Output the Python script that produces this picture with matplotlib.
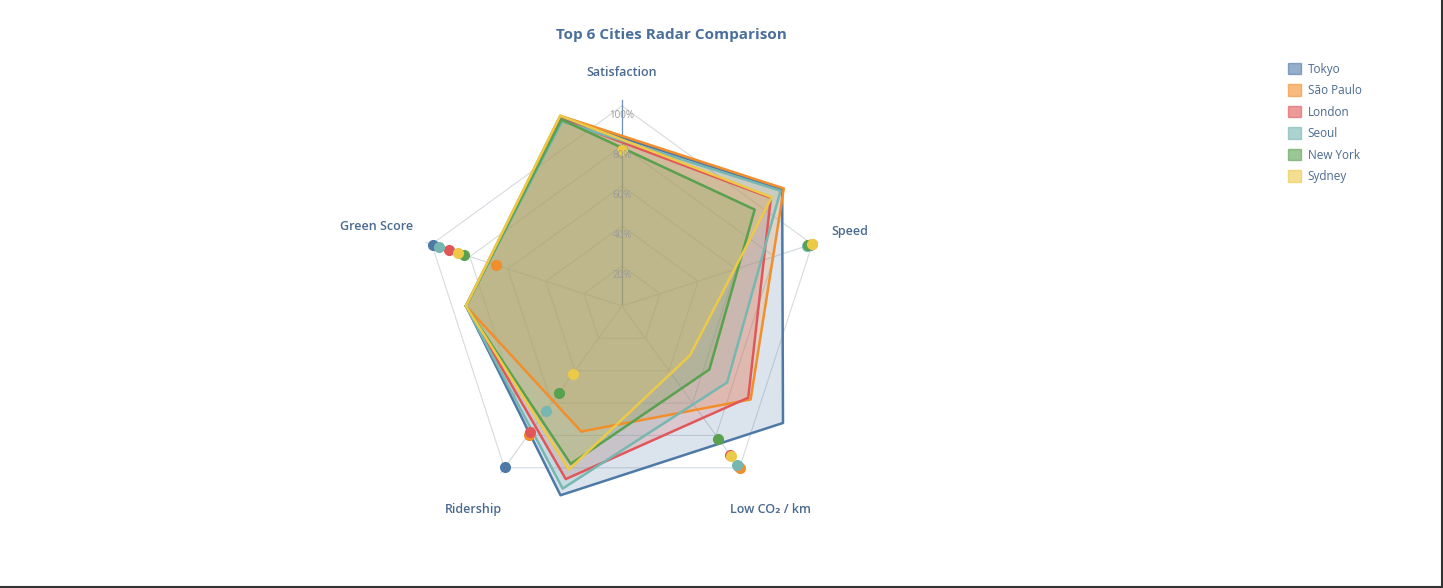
import numpy as np
import matplotlib
matplotlib.use("Agg")
import matplotlib.pyplot as plt
from matplotlib.patches import Patch
from matplotlib.lines import Line2D

plt.rcParams['font.family'] = ['Open Sans', 'DejaVu Sans']

metrics = ["Satisfaction", "Speed", "Low CO\u2082 / km", "Ridership", "Green Score"]
cities = ["Tokyo", "São Paulo", "London", "Seoul", "New York", "Sydney"]
colors = ["#4e79a7", "#f28e2b", "#e15759", "#76b7b2", "#59a14f", "#edc948"]
tokyo = [78, 99, 99, 99.5, 99.5]
sao_paulo = [78, 100, 100, 79.5, 66]
london = [78, 98, 92, 78, 91]
seoul = [78, 97, 98, 65, 96]
new_york = [78, 98, 82, 54, 83]
sydney = [78, 100, 92.5, 42, 86]
values = [tokyo, sao_paulo, london, seoul, new_york, sydney]
grid_levels = [20, 40, 60, 80, 100]
tick_labels = ["20%", "40%", "60%", "80%", "100%"]
rmax = 103
label_r = [116.5, 120, 126, 126, 129]

W, H = 1443, 588
cx, cy = 622, 306
fig = plt.figure(figsize=(W / 100, H / 100), dpi=100)
ax = fig.add_axes([0, 0, 1, 1])
ax.set_xlim(-cx / 2, (W - cx) / 2)
ax.set_ylim(-(H - cy) / 2, cy / 2)
ax.axis('off')

n = len(metrics)
ang = np.deg2rad(np.arange(n) * 72.0)          # clockwise from top

def xy(r, a):
    return np.asarray(r) * np.sin(a), np.asarray(r) * np.cos(a)

# grid
gc = "#d5dbe0"
for lv in grid_levels:
    x, y = xy(np.full(n + 1, lv), np.append(ang, ang[0]))
    ax.plot(x, y, color=gc, lw=0.8, zorder=1)
for i, a in enumerate(ang):
    x, y = xy([0, rmax], [a, a])
    ax.plot(x, y, color="#6f8fb5" if i == 0 else gc, lw=0.9, zorder=1)
for lv, t in zip(grid_levels, tick_labels):
    ax.text(0, lv - 4.5, t, ha='center', va='center', fontsize=7, color="#9a9a9a", zorder=6)
for m, a, lr in zip(metrics, ang, label_r):
    x, y = xy(lr, a)
    ax.text(x, y, m, ha='center', va='center', fontsize=9, color="#4a6a8f", fontweight='semibold')

# polygons (rotated by -90 deg) and dots on axes
pang = ang - np.pi / 2
for c, v, col in zip(cities, values, colors):
    x, y = xy(np.append(v, v[0]), np.append(pang, pang[0]))
    ax.fill(x, y, color=col, alpha=0.2, lw=0, zorder=2)
    ax.plot(x, y, color=col, lw=1.8, zorder=3)
for c, v, col in zip(cities, values, colors):
    x, y = xy(v, ang)
    ax.plot(x, y, 'o', color=col, ms=7, zorder=5, lw=0)

fig.text(671 / W, 1 - 35 / H, "Top 6 Cities Radar Comparison", ha='center', va='center',
         fontsize=11, fontweight='bold', color="#4a6f9c")

handles = [Patch(facecolor=col, edgecolor=col, alpha=0.6, label=c) for c, col in zip(cities, colors)]
leg = fig.legend(handles=handles, loc='upper left', bbox_to_anchor=(1277 / W, 1 - 52 / H),
                 frameon=False, fontsize=8.5, labelspacing=0.72, handlelength=1.1,
                 handleheight=1.1, handletextpad=0.6)
for t in leg.get_texts():
    t.set_color("#4a6a8f")

fig.add_artist(Line2D([0, 1], [0.0015, 0.0015], color="#333333", lw=1.5))
fig.add_artist(Line2D([0.9993, 0.9993], [0, 1], color="#333333", lw=1.5))

fig.savefig("out.png", dpi=100)
